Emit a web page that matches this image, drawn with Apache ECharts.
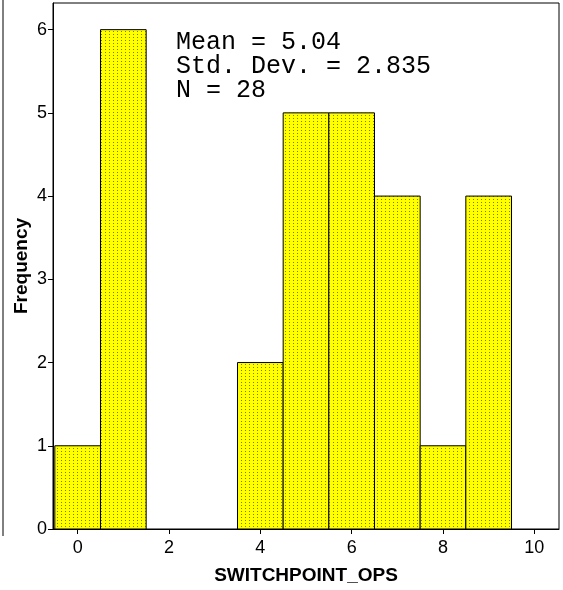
<!DOCTYPE html>
<html>
<head>
<meta charset="UTF-8">
<title>SWITCHPOINT_OPS histogram</title>
<style>
  html, body { margin: 0; padding: 0; background: #fff; }
  #chart { width: 563px; height: 590px; }
</style>
</head>
<body>
<div id="chart"></div>
<script src="https://cdn.jsdelivr.net/npm/echarts@6/dist/echarts.min.js"></script>
<script>
// bin centres and frequencies
var bins = [0, 1, 2, 3, 4, 5, 6, 7, 8, 9];
var freq = [1, 6, 0, 0, 2, 5, 5, 4, 1, 4];
var xTicks = [0, 2, 4, 6, 8, 10];
var yTicks = [0, 1, 2, 3, 4, 5, 6];
var stats = ['Mean = 5.04', 'Std. Dev. = 2.835', 'N = 28'];

// yellow fill with dark dots, like the spss bar pattern
function dotPattern() {
  var c = document.createElement('canvas');
  c.width = 4; c.height = 3;
  var ctx = c.getContext('2d');
  ctx.fillStyle = '#ffff00';
  ctx.fillRect(0, 0, 4, 3);
  ctx.fillStyle = '#7f7f00';
  ctx.fillRect(1, 1, 1, 1);
  return c;
}
var pat = { image: dotPattern(), repeat: 'repeat' };

var data = [];
for (var i = 0; i < bins.length; i++) {
  if (freq[i] > 0) data.push([bins[i], freq[i]]);
}

var chart = echarts.init(document.getElementById('chart'));
var axisFont = 'Arial, "Liberation Sans", sans-serif';

chart.setOption({
  animation: false,
  grid: {
    left: 53, right: 4, top: 3, bottom: 61,
    show: true, borderColor: '#000', borderWidth: 1
  },
  xAxis: {
    type: 'value',
    min: -0.54, max: 10.54,
    name: 'SWITCHPOINT_OPS',
    nameLocation: 'middle',
    nameGap: 37,
    nameTextStyle: { fontFamily: axisFont, fontWeight: 'bold', fontSize: 19, color: '#000' },
    axisLine: { onZero: false, lineStyle: { color: '#000' } },
    axisTick: { show: true, length: 5, lineStyle: { color: '#000' },
      customValues: xTicks },
    axisLabel: { margin: 10, fontFamily: axisFont, fontSize: 18, color: '#000',
      customValues: xTicks },
    splitLine: { show: false }
  },
  yAxis: {
    type: 'value',
    min: 0, max: 6.32,
    name: 'Frequency',
    nameLocation: 'middle',
    nameGap: 22,
    nameMoveOverlap: false,
    nameTextStyle: { fontFamily: axisFont, fontWeight: 'bold', fontSize: 19, color: '#000' },
    axisLine: { show: true, onZero: false, lineStyle: { color: '#000' } },
    axisTick: { show: true, length: 5, lineStyle: { color: '#000' },
      customValues: yTicks },
    axisLabel: { margin: 6, fontFamily: axisFont, fontSize: 18, color: '#000',
      customValues: yTicks },
    splitLine: { show: false }
  },
  graphic: [
    { type: 'line', shape: { x1: 3, y1: 0, x2: 3, y2: 536 },
      style: { stroke: '#000', lineWidth: 1 } },
    { type: 'text', left: 176, top: 30,
      style: { text: stats.join('\n'), font: '25px "Courier New", "Liberation Mono", monospace',
        lineHeight: 24, fill: '#000' } }
  ],
  series: [{
    type: 'custom',
    data: data,
    renderItem: function (params, api) {
      var x = api.value(0), y = api.value(1);
      var p0 = api.coord([x - 0.5, y]);
      var p1 = api.coord([x + 0.5, 0]);
      return {
        type: 'rect',
        shape: { x: p0[0], y: p0[1], width: p1[0] - p0[0], height: p1[1] - p0[1] },
        style: { fill: pat, stroke: '#000', lineWidth: 1 }
      };
    }
  }]
});
</script>
</body>
</html>
